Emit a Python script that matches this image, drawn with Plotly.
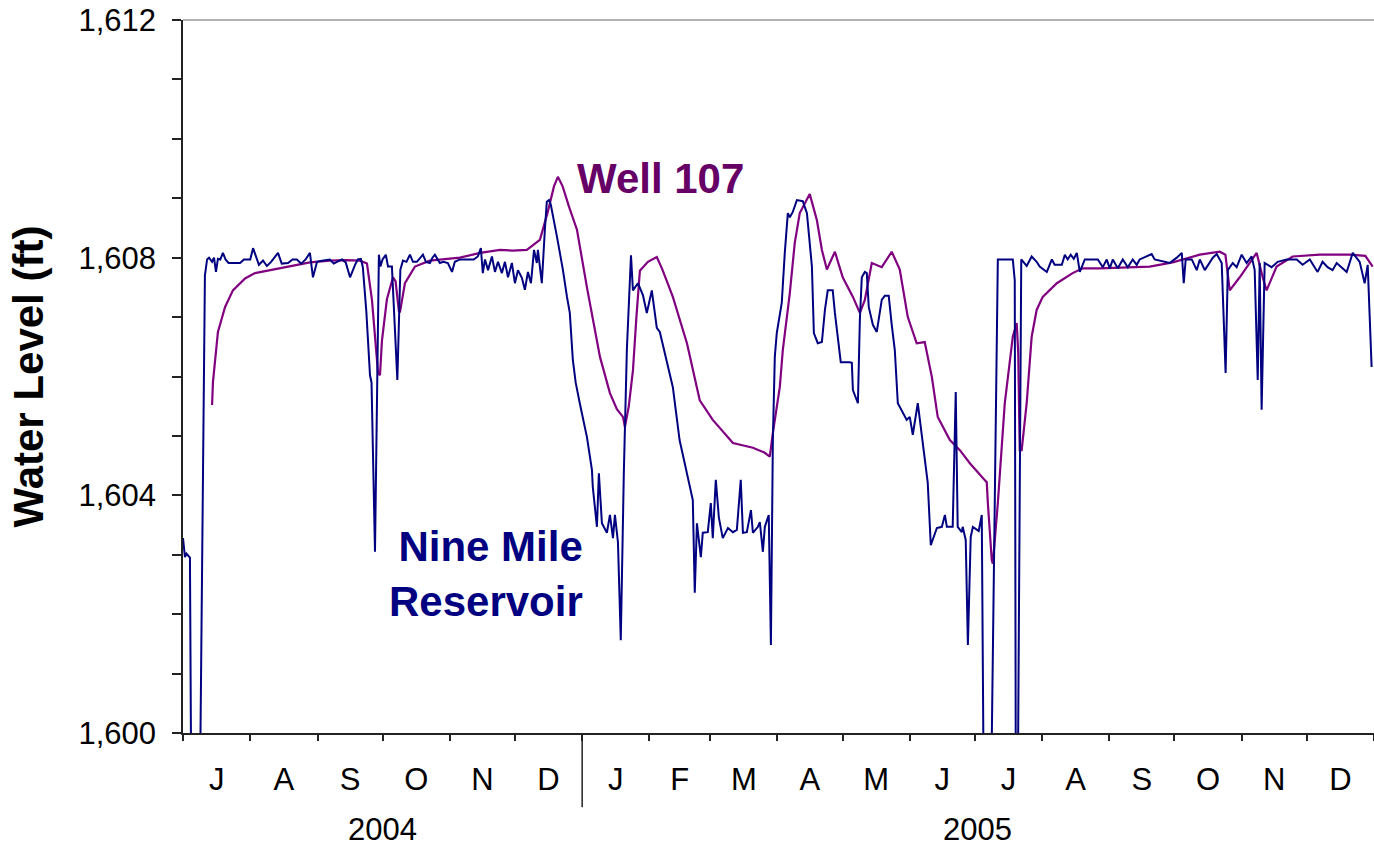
import datetime as dt
import plotly.graph_objects as go

# ---- Nine Mile Reservoir (days since 2004-07-01, water level ft) ----
nm_day = [0, 0.9, 1.6, 2.4, 3.2, 3.8, 7.8, 10.1, 11.1, 12.0, 13.4, 14.3, 15.2, 16.1, 17.2, 18.4,
          19.6, 21.0, 23.0, 26.3, 28.1, 31.0, 32.3, 33.6, 35.0, 36.9, 38.7, 40.6, 43.8, 45.5, 48.4,
          50.5, 52.5, 54.5, 56.5, 58.5, 59.9, 61.8, 64.0, 67.7, 69.5, 71.0, 73.3, 75.0, 77.0, 79.3,
          80.6, 82.0, 82.9, 84.5, 86.2, 86.9, 88.5, 90.3, 91.0, 92.0, 93.5, 94.5, 96.3, 98.8, 100.2,
          101.4, 103.0, 104.6, 106.0, 107.8, 109.2, 110.6, 112.0, 113.8, 115.0, 116.1, 118.4, 120.0,
          122.1, 124.0, 125.3, 127.6, 130.0, 132.3, 134.0, 135.9, 137.3, 138.2, 139.2, 140.6, 142.4,
          143.8, 145.2, 147.0, 148.4, 149.8, 151.6, 153.0, 154.4, 156.2, 157.6, 159.0, 160.4, 161.8,
          163.1, 163.6, 165.4, 166.8, 167.7, 168.7, 169.5, 172.4, 175.1, 177.0, 178.3, 179.7, 181.0,
          182.9, 186.2, 188.5, 188.9, 190.8, 191.7, 193.1, 195.4, 196.8, 198.2, 199.1, 200.5, 201.8,
          203.2, 204.6, 206.5, 207.4, 209.7, 212.0, 213.8, 216.1, 218.4, 219.8, 223.0, 225.8, 228.9,
          232.3, 235.0, 235.9, 236.9, 238.7, 239.6, 241.9, 243.3, 244.2, 245.6, 247.0, 248.8, 251.2,
          253.5, 255.3, 257.1, 258.1, 259.9, 261.8, 262.7, 265.0, 265.9, 267.3, 268.2, 270.0, 271.0,
          271.9, 272.8, 273.7, 276.0, 277.4, 278.8, 279.7, 281.1, 283.0, 285.7, 287.6, 288.5, 289.9,
          290.8, 292.6, 294.5, 295.9, 297.2, 299.5, 300.5, 301.4, 303.2, 307.4, 308.3, 308.8, 311.1,
          312.0, 312.9, 314.3, 315.2, 316.1, 318.0, 319.8, 322.1, 323.5, 325.3, 326.7, 328.1, 329.5,
          331.8, 333.6, 335.0, 336.4, 338.7, 341.0, 343.3, 344.7, 347.5, 349.8, 351.2, 352.1, 354.8,
          356.2, 357.1, 359.0, 359.4, 360.8, 361.8, 363.1, 364.1, 366.8, 368.2, 369.1, 372.5, 375.6,
          382.5, 383.4, 383.9, 384.8, 386.4, 388.9, 391.2, 393.5, 394.9, 398.2, 400.5, 401.8, 405.1,
          406.5, 407.8, 409.2, 410.6, 412.0, 413.4, 415.7, 421.7, 424.0, 425.8, 427.2, 428.6, 430.9,
          433.2, 435.5, 437.8, 439.6, 441.0, 446.5, 447.9, 454.8, 458.1, 460.4, 461.3, 462.2, 465.0,
          467.3, 468.7, 471.0, 474.7, 476.5, 478.8, 480.6, 481.6, 483.9, 485.7, 488.0, 490.3, 492.6,
          494.0, 495.4, 496.3, 497.2, 498.6, 501.8, 504.6, 508.8, 513.4, 516.1, 519.4, 523.0, 525.3,
          527.6, 529.9, 531.8, 536.4, 539.2, 542.4, 544.7, 546.1, 547.9]
nm_level = [1603.28, 1602.96, 1603.02, 1602.98, 1602.95, 1599.0, 1599.0, 1607.7, 1607.97, 1608.0,
            1607.93, 1608.0, 1607.76, 1607.98, 1607.97, 1608.08, 1607.97, 1607.91, 1607.91, 1607.91,
            1607.97, 1607.97, 1608.16, 1608.02, 1607.88, 1607.95, 1607.86, 1607.93, 1608.08, 1607.9,
            1607.91, 1607.97, 1607.97, 1607.9, 1607.97, 1608.08, 1607.67, 1607.93, 1607.95, 1607.97,
            1607.9, 1607.93, 1607.97, 1607.92, 1607.67, 1607.88, 1607.97, 1607.98, 1607.84, 1607.1,
            1606.02, 1605.9, 1603.05, 1608.05, 1607.85, 1607.97, 1608.05, 1607.85, 1607.85, 1605.94,
            1607.8, 1607.95, 1607.93, 1608.05, 1607.93, 1607.93, 1608.0, 1608.05, 1607.93, 1607.91,
            1608.0, 1608.05, 1607.91, 1607.93, 1607.91, 1607.76, 1607.93, 1607.97, 1607.97, 1607.97,
            1607.97, 1608.02, 1608.16, 1607.74, 1607.97, 1607.79, 1608.02, 1607.76, 1607.93, 1607.74,
            1607.93, 1607.67, 1607.91, 1607.57, 1607.79, 1607.66, 1607.46, 1607.76, 1607.57, 1608.13,
            1607.91, 1608.13, 1607.57, 1608.47, 1608.94, 1608.97, 1608.9, 1608.35, 1607.8, 1607.34,
            1607.07, 1606.28, 1605.9, 1605.55, 1604.98, 1604.43, 1604.14, 1603.47, 1604.37, 1603.53,
            1603.37, 1603.67, 1603.28, 1603.67, 1603.21, 1601.56, 1604.37, 1606.45, 1608.04, 1607.45,
            1607.57, 1607.37, 1607.07, 1607.45, 1606.82, 1606.75, 1606.23, 1605.82, 1604.93, 1604.37,
            1603.92, 1602.36, 1603.53, 1602.96, 1603.37, 1603.38, 1603.87, 1603.28, 1604.26, 1603.63,
            1603.28, 1603.45, 1603.38, 1603.42, 1604.26, 1603.37, 1603.38, 1603.75, 1603.37, 1603.47,
            1603.55, 1603.05, 1603.47, 1603.67, 1601.48, 1604.93, 1606.33, 1606.73, 1607.24, 1608.08,
            1608.75, 1608.68, 1608.77, 1608.97, 1608.95, 1608.75, 1608.35, 1607.85, 1606.73, 1606.56,
            1606.58, 1607.12, 1607.45, 1607.45, 1607.07, 1606.78, 1606.24, 1606.24, 1606.23, 1605.77,
            1605.55, 1606.95, 1607.67, 1607.76, 1607.74, 1607.17, 1606.87, 1606.75, 1607.29, 1607.36,
            1607.36, 1606.87, 1606.45, 1605.55, 1605.39, 1605.27, 1605.32, 1605.02, 1605.55, 1604.88,
            1604.21, 1603.16, 1603.45, 1603.47, 1603.67, 1603.47, 1603.47, 1605.74, 1603.47, 1603.38,
            1603.47, 1603.25, 1601.48, 1603.3, 1603.47, 1603.4, 1603.67, 1599.0, 1599.0, 1607.97,
            1607.97, 1607.62, 1599.0, 1599.0, 1607.97, 1607.86, 1608.02, 1607.93, 1607.85, 1607.76,
            1607.97, 1607.88, 1607.88, 1608.05, 1607.97, 1608.05, 1607.98, 1608.08, 1607.76, 1607.97,
            1607.97, 1607.84, 1607.97, 1607.82, 1607.97, 1607.82, 1607.97, 1607.84, 1607.97, 1607.88,
            1607.97, 1608.06, 1607.97, 1607.91, 1608.0, 1608.08, 1607.57, 1607.97, 1607.97, 1607.79,
            1607.97, 1607.79, 1608.0, 1608.06, 1607.91, 1606.06, 1607.79, 1607.91, 1607.84, 1608.05,
            1607.91, 1608.02, 1607.79, 1605.94, 1607.91, 1605.44, 1607.91, 1607.84, 1607.93, 1607.97,
            1607.97, 1607.88, 1607.97, 1607.76, 1607.93, 1607.84, 1607.79, 1607.91, 1607.76, 1608.08,
            1607.93, 1607.57, 1607.88, 1606.16]

# ---- Well 107 (days since 2004-07-01, water level ft) ----
w_day = [13.4, 13.8, 16.1, 19.4, 23.0, 28.6, 33.2, 40.1, 49.3, 58.5, 67.7, 75.0, 81.6, 84.8, 87.1,
         88.5, 89.9, 90.8, 91.7, 94.0, 96.8, 98.0, 99.5, 100.0, 102.3, 106.9, 113.8, 127.6, 137.0,
         146.1, 152.0, 158.5, 161.0, 164.5, 168.0, 171.0, 172.8, 175.0, 178.0, 181.6, 186.2, 192.2,
         196.8, 200.0, 202.8, 203.7, 205.5, 207.4, 209.0, 210.6, 214.3, 218.4, 221.0, 225.8, 232.3,
         238.2, 244.2, 253.5, 262.7, 268.0, 270.5, 271.9, 275.1, 276.5, 279.7, 282.0, 284.3, 287.6,
         288.9, 292.2, 294.5, 296.8, 300.5, 304.1, 308.8, 312.0, 314.3, 317.5, 322.1, 326.7, 330.4,
         334.1, 338.2, 341.9, 345.2, 347.9, 353.5, 358.1, 362.7, 368.7, 370.5, 371.0, 372.8, 373.3,
         375.6, 378.8, 381.1, 382.5, 384.3, 385.0, 385.7, 386.6, 388.9, 391.2, 393.5, 396.3, 402.8,
         410.1, 414.7, 422.6, 445.6, 456.2, 468.7, 477.9, 480.5, 482.5, 487.1, 494.9, 497.7, 499.5,
         504.1, 511.5, 524.0, 537.8, 545.0, 548.4]
w_level = [1605.52, 1605.9, 1606.75, 1607.17, 1607.45, 1607.65, 1607.74, 1607.79, 1607.85, 1607.92,
           1607.95, 1607.96, 1607.95, 1607.9, 1607.29, 1606.6, 1606.06, 1606.02, 1606.6, 1607.3,
           1607.67, 1607.6, 1607.1, 1607.08, 1607.57, 1607.85, 1607.95, 1608.0, 1608.08, 1608.13,
           1608.12, 1608.13, 1608.2, 1608.3, 1608.75, 1609.2, 1609.36, 1609.2, 1608.85, 1608.47,
           1607.5, 1606.33, 1605.72, 1605.45, 1605.32, 1605.15, 1605.5, 1606.1, 1607.0, 1607.78,
           1607.93, 1608.01, 1607.8, 1607.34, 1606.56, 1605.6, 1605.27, 1604.88, 1604.8, 1604.72,
           1604.65, 1605.05, 1605.82, 1606.45, 1607.4, 1608.25, 1608.75, 1608.97, 1609.07, 1608.63,
           1608.13, 1607.8, 1608.1, 1607.67, 1607.34, 1607.07, 1607.29, 1607.91, 1607.84, 1608.1,
           1607.8, 1607.0, 1606.56, 1606.58, 1605.99, 1605.32, 1604.93, 1604.76, 1604.54, 1604.29,
           1604.22, 1603.87, 1602.91, 1602.85, 1603.87, 1605.55, 1606.28, 1606.67, 1606.9, 1606.4,
           1604.76, 1604.76, 1605.55, 1606.67, 1607.12, 1607.34, 1607.57, 1607.74, 1607.82, 1607.82,
           1607.85, 1607.92, 1608.05, 1608.1, 1608.05, 1607.45, 1607.67, 1608.08, 1607.67, 1607.45,
           1607.85, 1608.02, 1608.05, 1608.05, 1608.03, 1607.85]

month_letters = ["J", "A", "S", "O", "N", "D", "J", "F", "M", "A", "M", "J",
                 "J", "A", "S", "O", "N", "D"]
year_labels = ["2004", "2005"]
y_ticks = [1600, 1604, 1608, 1612]

FONT = "Liberation Sans, Arial, sans-serif"
BLUE = "#000080"
PURPLE = "#800080"


def to_dates(days):
    return [dt.datetime(2004, 7, 1) + dt.timedelta(days=d) for d in days]


# month starts and mid-month label positions
month_starts = []
yy, mm = 2004, 7
for _ in range(19):
    month_starts.append(dt.datetime(yy, mm, 1))
    mm += 1
    if mm > 12:
        mm, yy = 1, yy + 1
mid_months = [a + (b - a) / 2 for a, b in zip(month_starts[:-1], month_starts[1:])]

fig = go.Figure()
fig.add_trace(go.Scatter(x=to_dates(w_day), y=w_level, mode="lines", name="Well 107",
                         line=dict(color=PURPLE, width=2.2)))
fig.add_trace(go.Scatter(x=to_dates(nm_day), y=nm_level, mode="lines", name="Nine Mile Reservoir",
                         line=dict(color=BLUE, width=2)))

# plot area at x 183-1374, y 20-733 (page body margin removed via post_script)
fig.update_layout(
    width=1374, height=850,
    margin=dict(l=183, r=0, t=20, b=117, autoexpand=False),
    paper_bgcolor="white", plot_bgcolor="white",
    showlegend=False,
    font=dict(family=FONT, color="black"),
    xaxis=dict(
        type="date", automargin=False,
        range=[dt.datetime(2004, 7, 1), dt.datetime(2006, 1, 1)],
        tickmode="array", tickvals=mid_months, ticktext=month_letters,
        ticks="", tickfont=dict(size=31, family=FONT),
        ticklabelstandoff=18,
        minor=dict(tickmode="array", tickvals=month_starts, ticks="outside",
                   ticklen=6, tickwidth=1.5, tickcolor="#222"),
        showline=True, linecolor="#222", linewidth=1.5,
        showgrid=False, zeroline=False,
    ),
    yaxis=dict(
        range=[1600, 1612], automargin=False,
        tickmode="array", tickvals=y_ticks, tickformat=",.0f",
        ticks="outside", ticklen=9, tickwidth=1.5, tickcolor="#222",
        minor=dict(dtick=1, ticks="outside", ticklen=9, tickwidth=1.5, tickcolor="#222"),
        tickfont=dict(size=31, family=FONT),
        ticklabelstandoff=10,
        ticklabeloverflow="allow",
        showline=True, linecolor="#222", linewidth=1.5,
        showgrid=False, zeroline=False,
        title=dict(text="<b>Water Level (ft)</b>", font=dict(size=42, family=FONT), standoff=22),
    ),
)

# top border line
fig.add_shape(type="line", xref="paper", yref="paper", x0=0, x1=1, y0=1, y1=1,
              line=dict(color="#999999", width=1.5))
# year divider
fig.add_shape(type="line", xref="x", yref="paper", x0=dt.datetime(2005, 1, 1), x1=dt.datetime(2005, 1, 1),
              y0=0, y1=-0.104, line=dict(color="#222", width=1.5))

# year labels
fig.add_annotation(x=dt.datetime(2004, 10, 1), y=-0.136, xref="x", yref="paper", text=year_labels[0],
                   showarrow=False, yanchor="middle", font=dict(size=31, family=FONT, color="black"))
fig.add_annotation(x=dt.datetime(2005, 7, 2), y=-0.136, xref="x", yref="paper", text=year_labels[1],
                   showarrow=False, yanchor="middle", font=dict(size=31, family=FONT, color="black"))

# series labels
fig.add_annotation(x=0.329, y=0.778, xref="paper", yref="paper", xanchor="left", yanchor="middle",
                   text="<b>Well 107</b>", showarrow=False,
                   font=dict(size=42, family=FONT, color="#660066"))
fig.add_annotation(x=0.3375, y=0.223, xref="paper", yref="paper", xanchor="right", yanchor="middle",
                   align="right", text="<b>Nine Mile<br>Reservoir</b>", showarrow=False,
                   font=dict(size=42, family=FONT, color=BLUE))

fig.write_html("out.html",
               config={"displayModeBar": False},
               post_script="document.body.style.margin='0px';document.body.style.overflow='hidden';")
